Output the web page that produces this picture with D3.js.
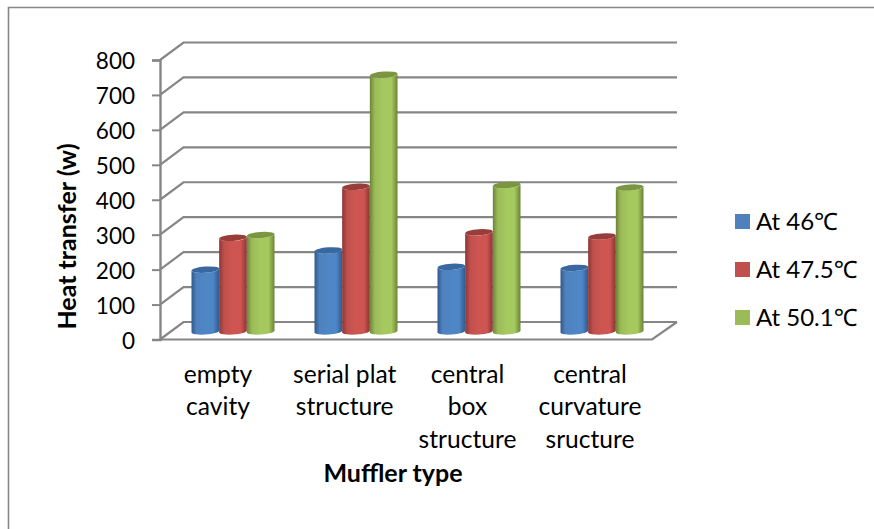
<!DOCTYPE html>
<html><head><meta charset="utf-8">
<script src="https://cdn.jsdelivr.net/npm/d3@7"></script>
<style>html,body{margin:0;padding:0;background:#fff}svg{display:block}text{font-family:Lato,"Noto Sans",sans-serif;fill:#000}</style>
</head><body><svg id="c" width="874" height="529"></svg>
<script>
const categories = [["empty","cavity"],["serial plat","structure"],["central","box","structure"],["central","curvature","sructure"]];
const seriesNames = ["At 46℃","At 47.5℃","At 50.1℃"];
const at46 = [177,232,185,182];
const at475 = [268,414,284,272];
const at501 = [276,735,419,412];
const yTicks = [0,100,200,300,400,500,600,700,800];
const baseColors = ["#4F81BD","#C0504D","#9BBB59"];
const darkEdges = ["#2f5a8c","#8a3533","#6c8438"];
const lightMid = ["#4f86c6","#cf5552","#a6c95f"];
const topColors = ["#38689f","#983c39","#7a9640"];

const svg = d3.select("#c");
const grey = "#868686";
const depth = {x:23.5, y:-17.5};
const x0 = d3.scaleBand().domain(d3.range(categories.length)).range([160,652]);
const inner = d3.scaleBand().domain(d3.range(3)).range([0,83]);
const y = d3.scaleLinear().domain([0,800]).range([339.5,60]);

// frame
svg.append("path").attr("d","M8.5,529V7.5H874").attr("fill","none").attr("stroke",grey).attr("stroke-width",1.6);

const defs = svg.append("defs");
defs.append("filter").attr("id","soft").attr("x","-5%").attr("y","-5%").attr("width","110%").attr("height","110%")
  .attr("filterUnits","userSpaceOnUse").attr("x",0).attr("y",0).attr("width",874).attr("height",529)
  .append("feGaussianBlur").attr("stdDeviation",0.5);
baseColors.forEach((c,i)=>{
  const g = defs.append("linearGradient").attr("id","cyl"+i).attr("x1",0).attr("x2",1).attr("y1",0).attr("y2",0);
  [[0,darkEdges[i]],[0.18,c],[0.5,lightMid[i]],[0.78,lightMid[i]],[1,darkEdges[i]]].forEach(s=>g.append("stop").attr("offset",s[0]).attr("stop-color",s[1]));
});

// walls
const wall = svg.append("g").attr("fill","none").attr("stroke",grey).attr("stroke-width",2.2).attr("filter","url(#soft)");
yTicks.forEach(t=>{
  const yy = y(t);
  wall.append("path").attr("d",d3.line()([[160,yy],[160+depth.x,yy+depth.y],[677,yy+depth.y]]));
});
wall.append("path").attr("d",d3.line()([[160,y(0)],[652,y(0)],[677,y(0)+depth.y]]));

// y axis
const axis = svg.append("g").attr("transform","translate(160,0)")
  .call(d3.axisLeft(y).tickValues(yTicks).tickSize(8).tickPadding(17).tickFormat(d3.format("d")));
axis.selectAll("path").attr("stroke",grey).attr("stroke-width",2.4);
axis.selectAll("line").attr("stroke",grey).attr("stroke-width",2);
axis.selectAll("text").style("font-size","22.5px").attr("fill","#000").attr("dy","0.38em");

// cylinders
const rot = -4, ry = 3.1;
const barOff = {x:11.5+20, y:-8};
const barsLayer = svg.append("g").attr("filter","url(#soft)");
categories.forEach((_,ci)=>{
  [at46,at475,at501].forEach((vals,s)=>{
    const w = inner.bandwidth();
    const xl = x0(ci)+barOff.x+inner(s);
    const xr = xl+w;
    const cx = (xl+xr)/2;
    const yb = y(0)+barOff.y;
    const yt = y(vals[ci])+barOff.y;
    const r = w/2;
    const dy = r*Math.sin(-rot*Math.PI/180);
    const g = barsLayer.append("g");
    g.append("path")
      .attr("d",`M${xl},${yt+dy}L${xl},${yb+dy}A${r},${ry} ${rot} 0 0 ${xr},${yb-dy}L${xr},${yt-dy}A${r},${ry} ${rot} 0 1 ${xl},${yt+dy}Z`)
      .attr("fill",`url(#cyl${s})`);
    g.append("ellipse").attr("cx",cx).attr("cy",yt).attr("rx",r).attr("ry",ry)
      .attr("transform",`rotate(${rot} ${cx} ${yt})`).attr("fill",topColors[s]);
  });
});

// category labels
const lineYs = [374,406.5,439];
const labelCx = d3.scaleLinear().domain([0,3]).range([218,590]);
categories.forEach((lines,ci)=>{
  const cx = ci===1?344.7:ci===2?467.5:labelCx(ci);
  lines.forEach((l,i)=>svg.append("text").attr("x",cx).attr("y",lineYs[i]).attr("dy","0.35em")
    .attr("text-anchor","middle").style("font-size","24.6px").text(l));
});

// axis titles
svg.append("text").attr("x",393).attr("y",473).attr("dy","0.35em").attr("text-anchor","middle")
  .style("font-size","25px").style("font-weight","700").text("Muffler type");
svg.append("text").attr("transform","translate(67,236.5) rotate(-90)").attr("dy","0.35em").attr("text-anchor","middle")
  .style("font-size","25px").style("font-weight","700").text("Heat transfer (w)");

// legend
const lg = d3.scalePoint().domain(seriesNames).range([222,318]);
seriesNames.forEach((n,i)=>{
  svg.append("rect").attr("x",735).attr("y",lg(n)-8).attr("width",15).attr("height",15).attr("fill",baseColors[i]);
  svg.append("text").attr("x",756).attr("y",lg(n)).attr("dy","0.35em").style("font-size","24px").text(n);
});
</script></body></html>
